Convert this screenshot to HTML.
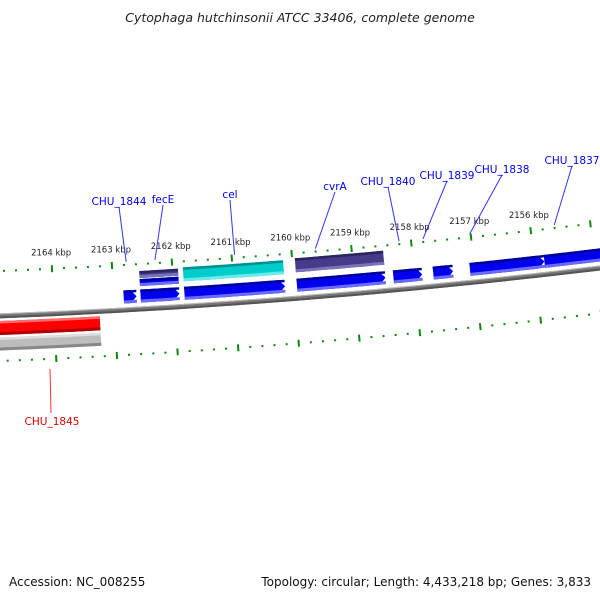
<!DOCTYPE html>
<html><head><meta charset="utf-8"><style>
html,body{margin:0;padding:0;background:#fff;}
svg{display:block;font-family:"DejaVu Sans","Liberation Sans",sans-serif;}
</style></head><body>
<svg id="map" width="600" height="600" viewBox="0 0 600 600" xmlns="http://www.w3.org/2000/svg">
<rect width="600" height="600" fill="#fff"/>
<text x="300" y="22" text-anchor="middle" font-size="12.5" font-style="italic" fill="#222">Cytophaga hutchinsonii ATCC 33406, complete genome</text>
<text x="9" y="586" font-size="12" fill="#111">Accession: NC_008255</text>
<text x="591" y="586" text-anchor="end" font-size="12" fill="#111">Topology: circular; Length: 4,433,218 bp; Genes: 3,833</text>
<g id="layer"></g>
</svg>
<script>
// ---- data ----
const tickKbp = [2164, 2163, 2162, 2161, 2160, 2159, 2158, 2157, 2156, 2155];
const tickLabels = ["2164 kbp","2163 kbp","2162 kbp","2161 kbp","2160 kbp","2159 kbp","2158 kbp","2157 kbp","2156 kbp"];
const fwdStarts = [2162834, 2162553, 2161825, 2159954, 2158348, 2157685, 2157073, 2155831];
const fwdEnds   = [2162619, 2161907, 2160152, 2158480, 2157868, 2157354, 2155831, 2154500];
const cogStarts = [2162553, 2161825, 2159954];
const cogEnds   = [2161907, 2160152, 2158480];
const cogColors = ["navy", "cyan", "navy"];
const revStarts = [2165400];
const revEnds   = [2163248];
const geneNames = ["CHU_1844","fecE","cel","cvrA","CHU_1840","CHU_1839","CHU_1838","CHU_1837"];
const geneLabelX = [119,163,230,335,388,447,502,572];
const geneLabelY = [205,203,198,190,185,179,173,164];
const geneAnchorBp = [2162760, 2162280, 2160950, 2159600, 2158200, 2157800, 2157020, 2155600];

// ---- geometry (arc of the circular genome) ----
const P1=[0,316],P2=[300,298],P3=[600,268];
function circ(a,b,c){const d=2*(a[0]*(b[1]-c[1])+b[0]*(c[1]-a[1])+c[0]*(a[1]-b[1]));
 const ux=((a[0]**2+a[1]**2)*(b[1]-c[1])+(b[0]**2+b[1]**2)*(c[1]-a[1])+(c[0]**2+c[1]**2)*(a[1]-b[1]))/d;
 const uy=((a[0]**2+a[1]**2)*(c[0]-b[0])+(b[0]**2+b[1]**2)*(a[0]-c[0])+(c[0]**2+c[1]**2)*(b[0]-a[0]))/d;return [ux,uy];}
const C=circ(P1,P2,P3);const R=Math.hypot(P2[0]-C[0],P2[1]-C[1]);
const thB=Math.atan2(P2[1]-C[1],P2[0]-C[0]);
const dirS=(Math.cos(thB+0.001)*R+C[0]>P2[0])?1:-1;
const upS=(P2[1]>C[1])?-1:1;
const pxPerBp=0.0604;
function sOf(bp){return 114+(2163000-bp)*pxPerBp;}
function pt(bp,d){const a=thB+dirS*(sOf(bp)-300)/R;const r=R+upS*d;return [C[0]+r*Math.cos(a),C[1]+r*Math.sin(a)];}
const NS="http://www.w3.org/2000/svg";const layer=document.getElementById('layer');
function mk(tag,attrs){const e=document.createElementNS(NS,tag);for(const k in attrs)e.setAttribute(k,attrs[k]);layer.appendChild(e);return e;}
function bandPts(b0,b1,d0,d1,head,dir){
 // dir: +1 arrow at b1 side
 const n=12,pts=[];const lo=Math.min(b0,b1),hi=Math.max(b0,b1);
 const outer=[],inner=[];
 for(let i=0;i<=n;i++){const bp=b0+(b1-b0)*i/n;outer.push(pt(bp,d1));inner.push(pt(bp,d0));}
 if(head){const tipBp=b1, backBp=b1-(b1-b0)/Math.abs(b1-b0)*Math.min(Math.abs(b1-b0)*0.5,6/pxPerBp);
  const o=[],ii=[];for(let i=0;i<=n;i++){const bp=b0+(backBp-b0)*i/n;o.push(pt(bp,d1));ii.push(pt(bp,d0));}
  return o.concat([pt(tipBp,(d0+d1)/2)]).concat(ii.reverse());}
 return outer.concat(inner.reverse());}
function poly(p,fill,name){const e=mk('polygon',{points:p.map(q=>q[0].toFixed(1)+','+q[1].toFixed(1)).join(' '),fill:fill});
 
 return e;}
function shaded(b0,b1,dc,h,head,base,dark,light,name){
 poly(bandPts(b0,b1,dc-h/2,dc+h/2,head),base,name);
 poly(bandPts(b0,b1,dc+h/2-2.5,dc+h/2,false),dark,name+'-shade');
 poly(bandPts(b0,b1,dc-h/2,dc-h/2+3,false),light,name+'-highlight');
}
// backbone
{const e=poly(bandPts(2166000,2154000,-2.5,2.5,false),'#777','backbone');
 const f=poly(bandPts(2166000,2154000,-2.5,-0.5,false),'#555','backbone-shadow');
 const g=poly(bandPts(2166000,2154000,1.5,2.5,false),'#bbb','backbone-highlight');}
// rulers
[45,-45].forEach((off,ri)=>{
 for(let bp=2166000;bp>=2154000;bp-=200){
  const major=bp%1000===0;const a=pt(bp,off-(major?3.5:1)),b=pt(bp,off+(major?3.5:1));
  const l=mk('line',{x1:a[0],y1:a[1],x2:b[0],y2:b[1],stroke:'#0a8a0a','stroke-width':2});
  
  
 }
});
tickLabels.forEach((t,i)=>{const p=pt(tickKbp[i]*1000,62);
 const e=mk('text',{x:p[0],y:p[1]+4,'text-anchor':'middle','font-size':'8.5',fill:'#222'});e.textContent=t;
 
 });
// forward genes
fwdStarts.forEach((s,i)=>{shaded(s,fwdEnds[i],13,13,true,'#0000ee','#00009a','#6a6aff','forward-gene');});
// cog / second row
cogStarts.forEach((s,i)=>{const c=cogColors[i];
 if(c==='cyan'){shaded(s,cogEnds[i],32,14,false,'#00cccc','#009090','#66eaea','cog-bar');}
 else if(i===0){shaded(s,cogEnds[i],34.5,7,false,'#443c88','#2a2460','#7a72b8','cog-bar');shaded(s,cogEnds[i],26.5,7,false,'#0000ee','#00009a','#6a6aff','cog-bar-gene');}
 else{shaded(s,cogEnds[i],33,14,false,'#443c88','#2a2460','#7a72b8','cog-bar');}
});
// reverse genes
revStarts.forEach((s,i)=>{shaded(s,revEnds[i],-12,14,false,'#ff0000','#ff6a6a','#b00000','reverse-gene');
 shaded(s,revEnds[i],-28,13,false,'#bdbdbd','#dedede','#888','reverse-cog-bar');});
// gene labels
geneNames.forEach((n,i)=>{const a=pt(geneAnchorBp[i],48);
 const l=mk('line',{x1:geneLabelX[i],y1:geneLabelY[i]+2,x2:a[0],y2:a[1],stroke:'#3333ff','stroke-width':1});
 
 
 const t=mk('text',{x:geneLabelX[i],y:geneLabelY[i],'text-anchor':'middle','font-size':'10.5',fill:'#0000ee'});t.textContent=n;
 
 });
{const l=mk('line',{x1:50,y1:369,x2:51,y2:413,stroke:'#ff3333','stroke-width':1});
 
 
 const t=mk('text',{x:52,y:425,'text-anchor':'middle','font-size':'10.5',fill:'#dd0000'});t.textContent='CHU_1845';
 
 }
</script>
</body></html>
